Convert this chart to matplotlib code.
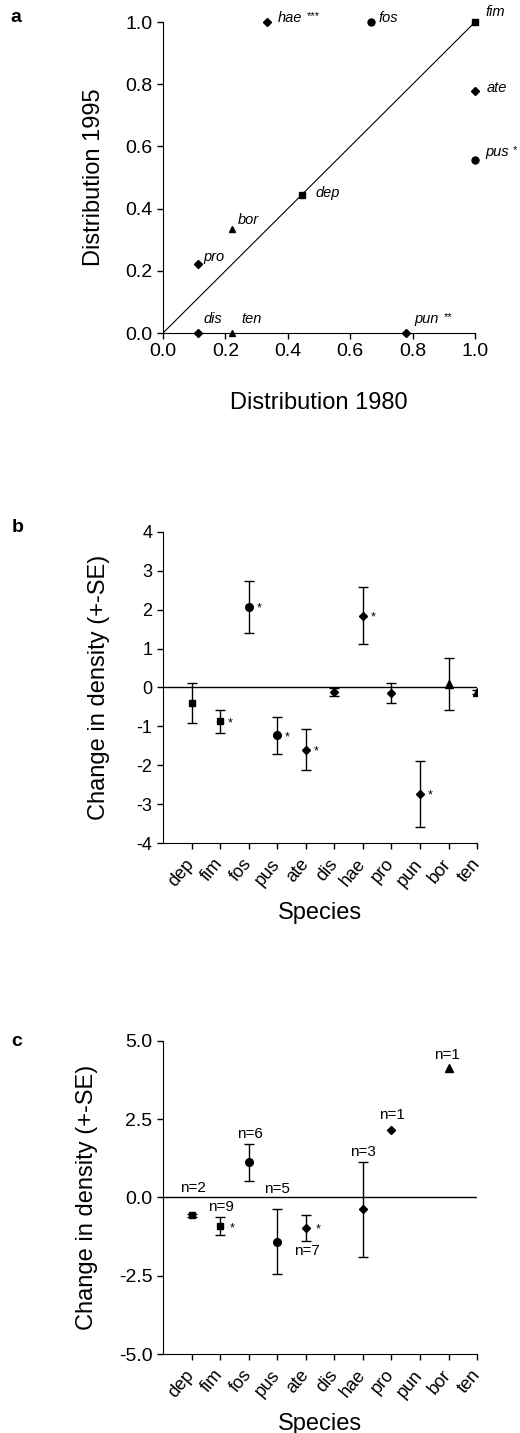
import numpy as np
import matplotlib
matplotlib.use('Agg')
import matplotlib.pyplot as plt

plt.rcParams['font.family'] = ['Liberation Sans', 'DejaVu Sans']
plt.rcParams['axes.unicode_minus'] = False

#### Data ####

species = ['dep', 'fim', 'fos', 'pus', 'ate', 'dis', 'hae', 'pro', 'pun', 'bor', 'ten']
markers = ['s', 's', 'o', 'o', 'D', 'D', 'D', 'D', 'D', '^', '^']

# a: proportion of sites occupied
dist_1980 = [0.444, 1.0, 0.667, 1.0, 1.0, 0.111, 0.333, 0.111, 0.778, 0.222, 0.222]
dist_1995 = [0.444, 1.0, 1.0, 0.556, 0.778, 0.0, 1.0, 0.222, 0.0, 0.333, 0.0]
dist_sig = ['', '', '', '*', '', '', '***', '', '**', '', '']

# b: change in density, all sites
b_mean = [-0.40, -0.87, 2.08, -1.23, -1.60, -0.11, 1.85, -0.15, -2.73, 0.10, -0.12]
b_se = [0.51, 0.30, 0.67, 0.48, 0.53, 0.10, 0.73, 0.26, 0.85, 0.67, 0.06]
b_sig = ['', '*', '*', '*', '*', '', '*', '', '*', '', '']

# c: change in density, subset of sites
c_mean = [-0.57, -0.91, 1.13, -1.41, -0.97, np.nan, -0.38, 2.15, np.nan, 4.12, np.nan]
c_se = [0.04, 0.29, 0.59, 1.04, 0.41, np.nan, 1.52, np.nan, np.nan, np.nan, np.nan]
c_n = [2, 9, 6, 5, 7, None, 3, 1, None, 1, None]
c_sig = ['', '*', '', '', '*', '', '', '', '', '', '']

# label offsets (pixels)
a_lab_off = [(14, 2), (10, 10), (7, 4), (10, 8), (12, 3), (6, 14), (11, 4), (6, 7), (9, 14), (6, 9), (9, 14)]
c_n_off = [(1, 27), (1, 19), (1, 28), (0, 53), (1, -23), (0, 0), (0, 57), (1, 15), (0, 0), (-2, 13), (0, 0)]

msize = {'s': 5, 'o': 5.5, 'D': 4.5, '^': 5.5}

###################

fig = plt.figure(figsize=(5.2, 14.33), dpi=100)
ax_a = fig.add_axes([0.3135, 0.7676, 0.6, 0.217])
ax_b = fig.add_axes([0.3135, 0.4117, 0.604, 0.2171])
ax_c = fig.add_axes([0.3135, 0.0551, 0.604, 0.2185])

for ax in [ax_a, ax_b, ax_c]:
    ax.spines['top'].set_visible(False)
    ax.spines['right'].set_visible(False)
    ax.tick_params(direction='out', length=4, width=1, color='black')

## panel a ##
ax_a.plot([0, 1], [0, 1], color='black', lw=0.8)
for i, sp in enumerate(species):
    m = markers[i]
    ax_a.plot(dist_1980[i], dist_1995[i], marker=m, ms=msize[m] - 0.5,
              color='black', ls='none', clip_on=False, zorder=5)
    t = ax_a.annotate(sp, (dist_1980[i], dist_1995[i]), xytext=a_lab_off[i],
                      textcoords='offset pixels', ha='left', va='center',
                      fontsize=10.5, style='italic', annotation_clip=False)
    if dist_sig[i]:
        ax_a.annotate(dist_sig[i], xy=(1, 1), xycoords=t, xytext=(3, 0),
                      textcoords='offset points', ha='left', va='top', fontsize=8)
ax_a.set_xlim(0, 1)
ax_a.set_ylim(0, 1)
ax_a.set_xticks(np.arange(0, 1.01, 0.2))
ax_a.set_yticks(np.arange(0, 1.01, 0.2))
ax_a.xaxis.set_major_formatter(plt.FormatStrFormatter('%.1f'))
ax_a.yaxis.set_major_formatter(plt.FormatStrFormatter('%.1f'))
ax_a.tick_params(labelsize=14)
ax_a.set_xlabel('Distribution 1980', fontsize=17)
ax_a.set_ylabel('Distribution 1995', fontsize=17)
ax_a.xaxis.set_label_coords(0.5, -0.19)
ax_a.yaxis.set_label_coords(-0.186, 0.5)

## panel b ##
x = np.arange(1, len(species) + 1)
ax_b.axhline(0, color='black', lw=1)
for i, sp in enumerate(species):
    m = markers[i]
    ax_b.errorbar(x[i], b_mean[i], yerr=b_se[i], fmt=m, ms=msize[m], color='black',
                  ecolor='black', elinewidth=1, capsize=3.5, capthick=1, zorder=5)
    if b_sig[i]:
        ax_b.annotate(b_sig[i], (x[i], b_mean[i]), xytext=(8, -2), textcoords='offset pixels',
                      ha='left', va='center', fontsize=9)
ax_b.set_xlim(0, 11)
ax_b.set_ylim(-4, 4)
ax_b.set_yticks(np.arange(-4, 5, 1))
ax_b.set_xticks(x)
ax_b.set_xticklabels(species, rotation=50, ha='right', va='center', rotation_mode='anchor')
ax_b.tick_params(axis='y', labelsize=13)
ax_b.tick_params(axis='x', labelsize=13, pad=9)
ax_b.set_xlabel('Species', fontsize=17)
ax_b.set_ylabel('Change in density (+-SE)', fontsize=17)
ax_b.xaxis.set_label_coords(0.5, -0.19)
ax_b.yaxis.set_label_coords(-0.169, 0.5)

## panel c ##
ax_c.axhline(0, color='black', lw=1)
for i, sp in enumerate(species):
    if np.isnan(c_mean[i]):
        continue
    m = markers[i]
    ax_c.errorbar(x[i], c_mean[i], yerr=c_se[i], fmt=m, ms=msize[m], color='black',
                  ecolor='black', elinewidth=1, capsize=3.5, capthick=1, zorder=5)
    if c_sig[i]:
        ax_c.annotate(c_sig[i], (x[i], c_mean[i]), xytext=(10, -2), textcoords='offset pixels',
                      ha='left', va='center', fontsize=9)
    ax_c.annotate('n=%d' % c_n[i], (x[i], c_mean[i]), xytext=c_n_off[i],
                  textcoords='offset pixels', ha='center', va='center', fontsize=11)
ax_c.set_xlim(0, 11)
ax_c.set_ylim(-5, 5)
ax_c.set_yticks([-5, -2.5, 0, 2.5, 5])
ax_c.yaxis.set_major_formatter(plt.FormatStrFormatter('%.1f'))
ax_c.set_xticks(x)
ax_c.set_xticklabels(species, rotation=50, ha='right', va='center', rotation_mode='anchor')
ax_c.tick_params(axis='y', labelsize=14)
ax_c.tick_params(axis='x', labelsize=13, pad=9)
ax_c.set_xlabel('Species', fontsize=17)
ax_c.set_ylabel('Change in density (+-SE)', fontsize=17)
ax_c.xaxis.set_label_coords(0.5, -0.188)
ax_c.yaxis.set_label_coords(-0.207, 0.5)

# panel letters
fig.text(16 / 520, 1 - 18 / 1433, 'a', fontsize=14, fontweight='bold', ha='center', va='center')
fig.text(18 / 520, 1 - 528 / 1433, 'b', fontsize=14, fontweight='bold', ha='center', va='center')
fig.text(17 / 520, 1 - 1042 / 1433, 'c', fontsize=14, fontweight='bold', ha='center', va='center')

plt.savefig('out.png', dpi=100)
